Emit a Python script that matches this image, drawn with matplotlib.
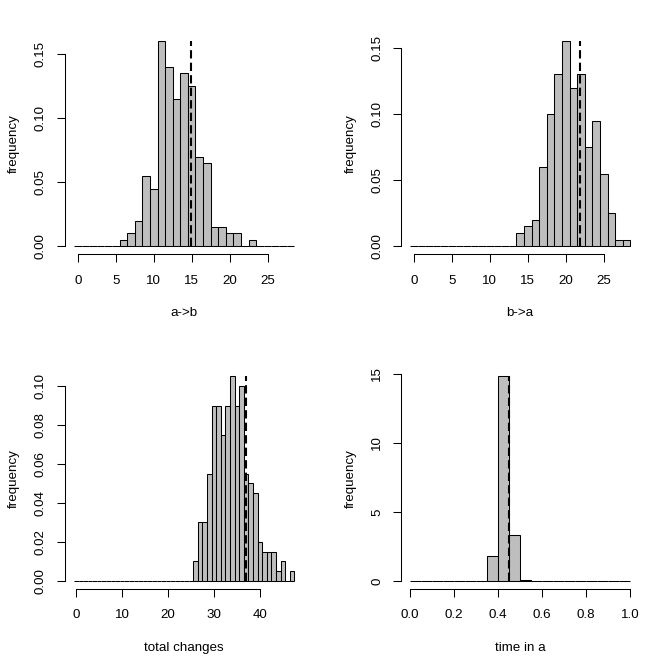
import numpy as np
import matplotlib
matplotlib.use('Agg')
import matplotlib.pyplot as plt

plt.rcParams['font.family'] = ['Liberation Sans', 'DejaVu Sans']
plt.rcParams['font.size'] = 9.6

# histogram densities, unit bins centred on the integers
ab_breaks = np.arange(-0.5, 29, 1)
ab_dens = [0, 0, 0, 0, 0, 0, 0.005, 0.01, 0.02, 0.055, 0.045, 0.16, 0.14,
           0.115, 0.135, 0.125, 0.07, 0.065, 0.015, 0.015, 0.01, 0.01, 0,
           0.005, 0, 0, 0, 0, 0]
ab_obs = 14.9

ba_breaks = np.arange(-0.5, 29, 1)
ba_dens = [0] * 14 + [0.01, 0.015, 0.02, 0.06, 0.10, 0.13, 0.155, 0.12,
                      0.13, 0.075, 0.095, 0.055, 0.025, 0.005, 0.005]
ba_obs = 21.9

tot_breaks = np.arange(-0.5, 48, 1)
tot_dens = [0] * 26 + [0.01, 0.03, 0.03, 0.055, 0.09, 0.09, 0.075, 0.09,
                       0.105, 0.09, 0.10, 0.055, 0.05, 0.045, 0.02, 0.015,
                       0.015, 0.015, 0.005, 0.01, 0, 0.005]
tot_obs = 36.9

time_breaks = np.linspace(0, 1, 21)
time_dens = [0] * 7 + [1.8, 14.8, 3.35, 0.05] + [0] * 9
time_obs = 0.451

panels = [
    (ab_breaks, ab_dens, ab_obs, 'a->b', [0, 5, 10, 15, 20, 25], None,
     [0, 0.05, 0.10, 0.15], ['0.00', '0.05', '0.10', '0.15']),
    (ba_breaks, ba_dens, ba_obs, 'b->a', [0, 5, 10, 15, 20, 25], None,
     [0, 0.05, 0.10, 0.15], ['0.00', '0.05', '0.10', '0.15']),
    (tot_breaks, tot_dens, tot_obs, 'total changes', [0, 10, 20, 30, 40], None,
     [0, 0.02, 0.04, 0.06, 0.08, 0.10],
     ['0.00', '0.02', '0.04', '0.06', '0.08', '0.10']),
    (time_breaks, time_dens, time_obs, 'time in a', [0, 0.2, 0.4, 0.6, 0.8, 1.0],
     ['0.0', '0.2', '0.4', '0.6', '0.8', '1.0'], [0, 5, 10, 15], None),
]

W, H = 672, 671
fig = plt.figure(figsize=(W / 100, H / 100), dpi=100)

lefts = [65.1, 401.2]
tops = [33.3, 368.1]
pw, ph = 238.0, 221.0

for i, (br, dens, obs, xlab, xt, xtl, yt, ytl) in enumerate(panels):
    l = lefts[i % 2]
    t = tops[i // 2]
    ax = fig.add_axes([l / W, 1 - (t + ph) / H, pw / W, ph / H])
    br = np.asarray(br)
    widths = np.diff(br)
    ax.bar(br[:-1], dens, width=widths, align='edge', color='#BEBEBE',
           edgecolor='black', linewidth=0.75)
    ax.plot([obs, obs], [0, max(dens)], color='black', lw=1.5,
            linestyle=(0, (4, 2)), zorder=5)

    xr = br[-1] - br[0]
    ax.set_xlim(br[0] - 0.04 * xr, br[-1] + 0.04 * xr)
    ymax = max(dens)
    ax.set_ylim(-0.04 * ymax, ymax * 1.04)

    ax.set_xticks(xt)
    if xtl:
        ax.set_xticklabels(xtl)
    ax.set_yticks(yt)
    if ytl:
        ax.set_yticklabels(ytl)
    for s in ['top', 'right']:
        ax.spines[s].set_visible(False)
    for s in ['left', 'bottom']:
        ax.spines[s].set_linewidth(0.75)
    ax.spines['bottom'].set_bounds(xt[0], xt[-1])
    ax.spines['left'].set_bounds(yt[0], yt[-1])
    ax.tick_params(length=6.1, width=0.75)
    ax.tick_params(axis='x', pad=8.5)
    ax.tick_params(axis='y', pad=7, labelrotation=90)
    for lab in ax.get_yticklabels():
        lab.set_va('center')
    ax.set_xlabel(xlab, labelpad=15)
    ax.set_ylabel('frequency', labelpad=10.5)

fig.savefig('out.png', dpi=100)
